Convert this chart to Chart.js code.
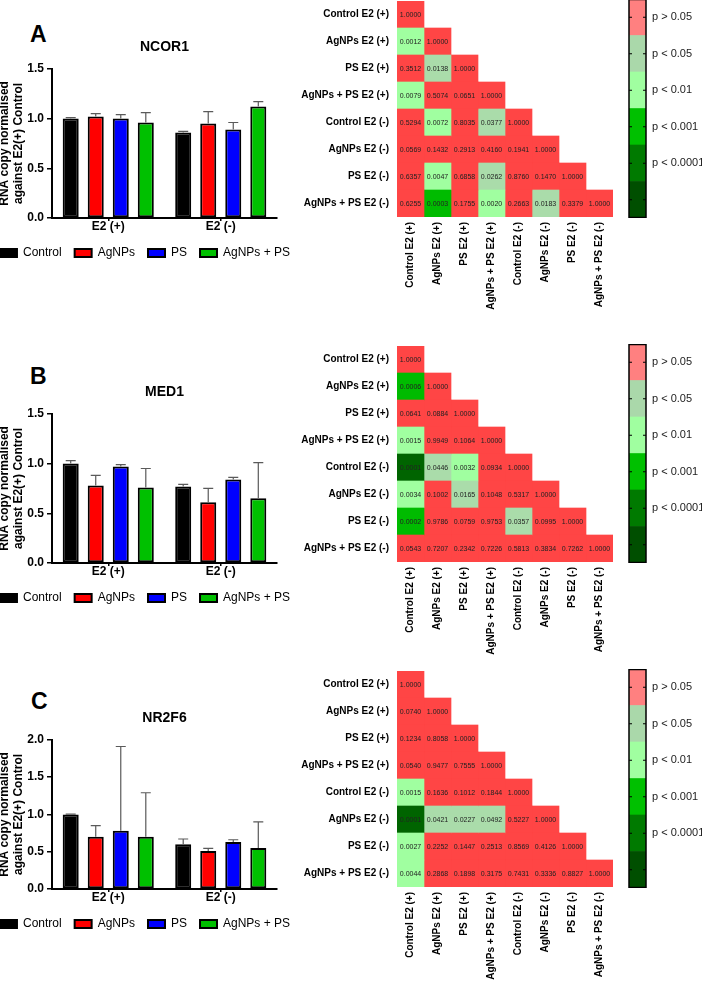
<!DOCTYPE html>
<html>
<head>
<meta charset="utf-8">
<script src="https://cdn.jsdelivr.net/npm/chart.js@4.4.1/dist/chart.umd.min.js"></script>
<style>
  body { margin: 0; width: 702px; height: 982px; background: #fff; overflow: hidden; position: relative; }
  canvas { position: absolute; }
  .letter { position: absolute; font: bold 23px "Liberation Sans", Arial, sans-serif; line-height: 23px; color: #000; }
</style>
</head>
<body>
<div class="letter" style="left:30px;top:23px">A</div>
<div class="letter" style="left:30px;top:365px">B</div>
<div class="letter" style="left:31px;top:690px">C</div>

<canvas id="barA" width="322" height="239" style="left:-16px;top:30px"></canvas>
<canvas id="barB" width="322" height="239" style="left:-16px;top:375px"></canvas>
<canvas id="barC" width="322" height="239" style="left:-16px;top:701px"></canvas>

<canvas id="heatA" width="316" height="332" style="left:300px;top:0px"></canvas>
<canvas id="heatB" width="316" height="332" style="left:300px;top:345px"></canvas>
<canvas id="heatC" width="316" height="332" style="left:300px;top:670px"></canvas>

<canvas id="cbarA" width="102" height="219" style="left:600px;top:-1px"></canvas>
<canvas id="cbarB" width="102" height="219" style="left:600px;top:344px"></canvas>
<canvas id="cbarC" width="102" height="219" style="left:600px;top:669px"></canvas>

<script>
Chart.defaults.font.family = '"Liberation Sans", Arial, sans-serif';
Chart.defaults.color = '#000';

// bar charts
var groups = ['E2 (+)', 'E2 (-)'];
var treatments = ['Control', 'AgNPs', 'PS', 'AgNPs + PS'];
var barColors = ['#000000', '#ff0000', '#0000ff', '#00c000'];

// one row per treatment: [E2 (+), E2 (-)]
var ncor1Mean = [[1.00, 0.86], [1.02, 0.95], [1.00, 0.89], [0.96, 1.12]];
var ncor1Err  = [[0.01, 0.01], [0.03, 0.12], [0.04, 0.07], [0.10, 0.05]];
var med1Mean  = [[1.00, 0.77], [0.78, 0.61], [0.97, 0.84], [0.76, 0.65]];
var med1Err   = [[0.03, 0.02], [0.10, 0.14], [0.02, 0.02], [0.19, 0.36]];
var nr2f6Mean = [[1.00, 0.60], [0.70, 0.51], [0.78, 0.63], [0.70, 0.55]];
var nr2f6Err  = [[0.005, 0.07], [0.15, 0.035], [1.13, 0.03], [0.59, 0.35]];

var ticksLow  = [0, 0.5, 1.0, 1.5];
var ticksHigh = [0, 0.5, 1.0, 1.5, 2.0];

// p value tables (lower triangle)
var comparisons = ['Control E2 (+)', 'AgNPs E2 (+)', 'PS E2 (+)', 'AgNPs + PS E2 (+)',
                   'Control E2 (-)', 'AgNPs E2 (-)', 'PS E2 (-)', 'AgNPs + PS E2 (-)'];

var ncor1P = [
  [1.0000],
  [0.0012, 1.0000],
  [0.3512, 0.0138, 1.0000],
  [0.0079, 0.5074, 0.0651, 1.0000],
  [0.5294, 0.0072, 0.8035, 0.0377, 1.0000],
  [0.0569, 0.1432, 0.2913, 0.4160, 0.1941, 1.0000],
  [0.6357, 0.0047, 0.6858, 0.0262, 0.8760, 0.1470, 1.0000],
  [0.6255, 0.0003, 0.1755, 0.0020, 0.2663, 0.0183, 0.3379, 1.0000]
];
var med1P = [
  [1.0000],
  [0.0006, 1.0000],
  [0.0641, 0.0884, 1.0000],
  [0.0015, 0.9949, 0.1064, 1.0000],
  [0.0001, 0.0446, 0.0032, 0.0934, 1.0000],
  [0.0034, 0.1002, 0.0165, 0.1048, 0.5317, 1.0000],
  [0.0002, 0.9786, 0.0759, 0.9753, 0.0357, 0.0995, 1.0000],
  [0.0543, 0.7207, 0.2342, 0.7226, 0.5813, 0.3834, 0.7262, 1.0000]
];
var nr2f6P = [
  [1.0000],
  [0.0740, 1.0000],
  [0.1234, 0.8058, 1.0000],
  [0.0540, 0.9477, 0.7555, 1.0000],
  [0.0015, 0.1636, 0.1012, 0.1844, 1.0000],
  [0.0001, 0.0421, 0.0227, 0.0492, 0.5227, 1.0000],
  [0.0027, 0.2252, 0.1447, 0.2513, 0.8569, 0.4126, 1.0000],
  [0.0044, 0.2868, 0.1898, 0.3175, 0.7431, 0.3336, 0.8827, 1.0000]
];

// colour key, bottom band first
var bandColors = ['#004f00', '#007a00', '#00c000', '#a0ffa0', '#aad8aa', '#ff8080'];
var bandLabels = ['', 'p < 0.0001', 'p < 0.001', 'p < 0.01', 'p < 0.05', 'p > 0.05'];

function cellColor(p) {
  if (p == null) return 'rgba(0,0,0,0)';
  if (p >= 0.05) return '#ff4545';
  if (p >= 0.01) return '#aadcaa';
  if (p >= 0.001) return '#a0ffa0';
  if (p > 0.0001) return '#00bb00';
  return '#006400';
}

// chart.js reserves room for end labels, we place things by hand
function noPadding(s) {
  s.paddingTop = 0; s.paddingBottom = 0; s.paddingLeft = 0; s.paddingRight = 0;
}

var errorBars = {
  id: 'errorBars',
  afterDatasetsDraw: function(chart) {
    var ctx = chart.ctx;
    var y = chart.scales.y;
    ctx.save();
    ctx.strokeStyle = '#5a5a5a';
    ctx.lineWidth = 1.2;
    chart.data.datasets.forEach(function(ds, k) {
      chart.getDatasetMeta(k).data.forEach(function(bar, i) {
        var top = y.getPixelForValue(ds.data[i] + ds.errors[i]);
        ctx.beginPath();
        ctx.moveTo(bar.x, bar.y);
        ctx.lineTo(bar.x, top);
        ctx.moveTo(bar.x - 5, top);
        ctx.lineTo(bar.x + 5, top);
        ctx.stroke();
      });
    });
    ctx.restore();
  }
};

function barChart(id, title, means, errs, ticks) {
  var boldFont = { size: 12, weight: 'bold' };
  new Chart(document.getElementById(id), {
    type: 'bar',
    data: {
      labels: groups,
      datasets: treatments.map(function(t, k) {
        return {
          label: t,
          data: means[k],
          errors: errs[k],
          backgroundColor: barColors[k],
          borderColor: '#000',
          borderWidth: 2,
          borderSkipped: false,
          barPercentage: 0.64,
          categoryPercentage: 0.89
        };
      })
    },
    options: {
      responsive: false,
      animation: false,
      layout: { padding: 0 },
      plugins: {
        title: { display: true, text: title, fullSize: false, color: '#000',
                 font: { size: 14, weight: 'bold' }, padding: { top: 9, bottom: 13 } },
        legend: { position: 'bottom',
                  labels: { boxWidth: 17, boxHeight: 8, padding: 13, color: '#000', font: { size: 12 } } },
        tooltip: { enabled: false }
      },
      scales: {
        x: {
          grid: { drawOnChartArea: false, offset: false, tickLength: 3, color: '#000', lineWidth: 1.5 },
          border: { color: '#000', width: 2 },
          ticks: { color: '#000', font: boldFont, padding: -2 },
          afterFit: function(s) { noPadding(s); s.height = 16; }
        },
        y: {
          min: 0,
          max: ticks[ticks.length - 1],
          afterBuildTicks: function(s) { s.ticks = ticks.map(function(v) { return { value: v }; }); },
          grid: { drawOnChartArea: false, tickLength: 5, color: '#000', lineWidth: 1.5 },
          border: { color: '#000', width: 2 },
          ticks: { color: '#000', font: boldFont, padding: 3,
                   callback: function(v) { return v.toFixed(1); } },
          title: { display: true, text: ['RNA copy normalised', 'against E2(+) Control'], color: '#000',
                   font: { size: 12, weight: 'bold', lineHeight: 1.15 }, padding: { top: 14, bottom: 0 } },
          afterFit: function(s) { noPadding(s); s.width = 68; }
        },
        pad: {
          type: 'linear', position: 'right', display: true,
          grid: { display: false, drawTicks: false }, border: { display: false }, ticks: { display: false },
          afterFit: function(s) { noPadding(s); s.width = 29; }
        }
      }
    },
    plugins: [errorBars]
  });
}

var cellText = {
  id: 'cellText',
  afterDatasetsDraw: function(chart) {
    var ctx = chart.ctx;
    ctx.save();
    ctx.fillStyle = '#222';
    ctx.font = '7px "Liberation Sans", Arial, sans-serif';
    ctx.textAlign = 'center';
    ctx.textBaseline = 'middle';
    chart.data.datasets.forEach(function(ds, j) {
      chart.getDatasetMeta(j).data.forEach(function(el, i) {
        if (j > i) return;
        var p = el.getProps(['x', 'y', 'base'], true);
        ctx.fillText(ds.pvals[i].toFixed(4), (p.x + p.base) / 2, p.y + 0.5);
      });
    });
    ctx.restore();
  }
};

function heatChart(id, pTable) {
  var labelFont = { size: 10, weight: 'bold' };
  new Chart(document.getElementById(id), {
    type: 'bar',
    data: {
      labels: comparisons,
      datasets: comparisons.map(function(c, j) {
        return {
          label: c,
          data: comparisons.map(function(r, i) { return j <= i ? 1 : null; }),
          pvals: pTable.map(function(row) { return row[j]; }),
          backgroundColor: function(ctx) { return cellColor(pTable[ctx.dataIndex][j]); },
          borderWidth: 0,
          barPercentage: 1,
          categoryPercentage: 1
        };
      })
    },
    options: {
      indexAxis: 'y',
      responsive: false,
      animation: false,
      layout: { padding: { top: 1, right: 3 } },
      plugins: { legend: { display: false }, tooltip: { enabled: false } },
      scales: {
        x: {
          type: 'linear', stacked: true, min: 0, max: comparisons.length,
          afterBuildTicks: function(s) { s.ticks = comparisons.map(function(c, i) { return { value: i + 0.5 }; }); },
          ticks: { autoSkip: false, minRotation: 90, maxRotation: 90, color: '#000', font: labelFont, padding: 5,
                   callback: function(v, i) { return comparisons[i]; } },
          grid: { display: false, drawTicks: false },
          border: { display: false },
          afterFit: function(s) { noPadding(s); s.height = 115; }
        },
        y: {
          stacked: true,
          grid: { display: false, drawTicks: false },
          border: { display: false },
          ticks: { color: '#000', font: labelFont, padding: 8 },
          afterFit: function(s) { noPadding(s); s.width = 97; }
        }
      }
    },
    plugins: [cellText]
  });
}

var barOutline = {
  id: 'barOutline',
  afterDatasetsDraw: function(chart) {
    var a = chart.chartArea;
    var y = chart.scales.y;
    var ctx = chart.ctx;
    ctx.save();
    ctx.strokeStyle = '#000';
    ctx.lineWidth = 1.5;
    ctx.strokeRect(a.left, a.top + 0.5, a.right - a.left, a.bottom - a.top - 1);
    ctx.lineWidth = 1.2;
    bandColors.forEach(function(c, k) {
      var py = y.getPixelForValue(k + 0.5);
      ctx.beginPath();
      ctx.moveTo(a.left, py); ctx.lineTo(a.left + 3, py);
      ctx.moveTo(a.right - 3, py); ctx.lineTo(a.right, py);
      ctx.stroke();
    });
    ctx.restore();
  }
};

function colorBar(id) {
  new Chart(document.getElementById(id), {
    type: 'bar',
    data: {
      labels: [''],
      datasets: bandColors.map(function(c) {
        return { data: [1], backgroundColor: c, borderWidth: 0, barPercentage: 1, categoryPercentage: 1 };
      })
    },
    options: {
      responsive: false,
      animation: false,
      layout: { padding: { left: 29 } },
      plugins: { legend: { display: false }, tooltip: { enabled: false } },
      scales: {
        x: { stacked: true, display: false },
        y: {
          stacked: true, position: 'right', min: 0, max: bandColors.length,
          afterBuildTicks: function(s) { s.ticks = bandColors.map(function(c, k) { return { value: k + 0.5 }; }); },
          ticks: { color: '#222', font: { size: 11 }, padding: 6,
                   callback: function(v) { return bandLabels[Math.floor(v)]; } },
          grid: { display: false, drawTicks: false },
          border: { display: false },
          afterFit: function(s) { noPadding(s); s.width = 56; }
        }
      }
    },
    plugins: [barOutline]
  });
}

barChart('barA', 'NCOR1', ncor1Mean, ncor1Err, ticksLow);
barChart('barB', 'MED1', med1Mean, med1Err, ticksLow);
barChart('barC', 'NR2F6', nr2f6Mean, nr2f6Err, ticksHigh);

heatChart('heatA', ncor1P);
heatChart('heatB', med1P);
heatChart('heatC', nr2f6P);

colorBar('cbarA');
colorBar('cbarB');
colorBar('cbarC');
</script>
</body>
</html>
